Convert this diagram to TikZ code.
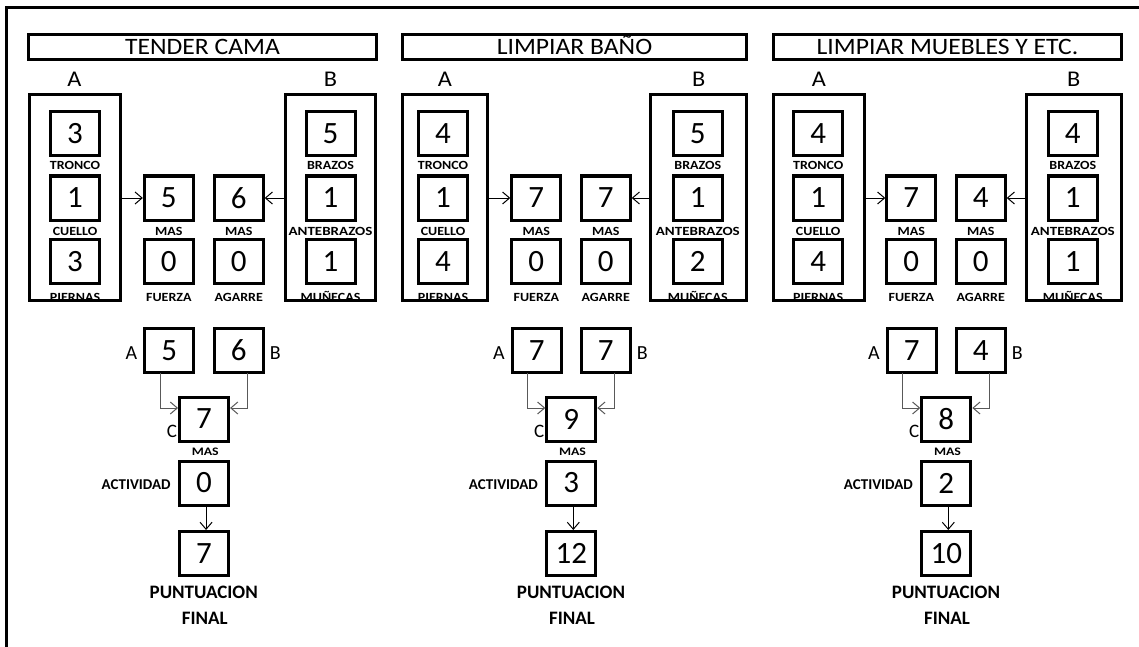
\documentclass[tikz,border=0pt]{standalone}
\usepackage{fontspec}
\setmainfont{Carlito}
\usetikzlibrary{arrows.meta}
\newcommand{\hs}[2][1.12]{\scalebox{#1}[1]{#2}}
\begin{document}
\begin{tikzpicture}[x=1pt,y=-1pt,
  box/.style={draw,line width=3pt,minimum width=49pt,minimum height=44pt,inner sep=0pt,outer sep=0pt,font=\fontsize{31}{31}\selectfont},
  frame/.style={draw,line width=3pt,inner sep=0pt,outer sep=0pt},
  lbl/.style={anchor=base,inner sep=0pt,font=\bfseries\fontsize{12.5}{12.5}\selectfont},
  hdr/.style={anchor=base,inner sep=0pt,font=\fontsize{22.5}{22.5}\selectfont},
  ttl/.style={anchor=base,inner sep=0pt,font=\fontsize{23.5}{23.5}\selectfont},
  arr/.style={line width=1pt,shorten >=1.5pt,-{Straight Barb[length=7pt,width=12pt]}},
  garr/.style={arr,draw=black!65}
]
\useasboundingbox (0,0) rectangle (1139,647);
\draw[line width=3pt] (6,650) -- (6,7.5) -- (1142,7.5);

\foreach \i/\ttlx/\tx/\tw/\ax/\aw/\ix/\mx/\nx/\bx/\bw/\jx/\va/\vb/\vc/\vm/\vn/\vd/\ve/\vf/\vg/\vh/\vk in {
  1/{TENDER CAMA}/202.5/348/74.5/91/75/168.8/238.7/330.5/90/330.5/3/1/3/5/6/5/1/1/7/0/7,
  2/{LIMPIAR BAÑO}/574.5/344/445/85/443/536.3/605.7/698.8/96/697.8/4/1/4/7/7/5/1/2/9/3/12,
  3/{LIMPIAR MUEBLES Y ETC.}/947.5/348.6/818.8/91.3/818.2/911.3/980.7/1073.8/94.7/1072.8/4/1/4/7/4/4/1/1/8/2/10}
{
  % title
  \node[ttl] (TT\i) at (\tx,55) {\hs[1.09]{\ttlx}};
  \node[frame,minimum width=\tw pt,minimum height=25pt] (T\i) at (\tx,47) {};
  % headers
  \node[hdr] (HA\i) at (\ax,87) {\hs[1.08]{A}};
  \node[hdr] (HB\i) at (\bx,87) {\hs[1.08]{B}};
  % inner boxes of A
  \node[box] (A1\i) at (\ix,133.5) {\va};
  \node[box] (A2\i) at (\ix,198) {\vb};
  \node[box] (A3\i) at (\ix,261.5) {\vc};
  \node[lbl] (LA1\i) at (\ix,170) {\hs{TRONCO}};
  \node[lbl] (LA2\i) at (\ix,235) {\hs{CUELLO}};
  \node[lbl] (LA3\i) at (\ix,301.5) {\hs{PIERNAS}};
  % inner boxes of B
  \node[box] (B1\i) at (\jx,133.5) {\vd};
  \node[box] (B2\i) at (\jx,198) {\ve};
  \node[box] (B3\i) at (\jx,261.5) {\vf};
  \node[lbl] (LB1\i) at (\jx,170) {\hs{BRAZOS}};
  \node[lbl] (LB2\i) at (\jx,235) {\hs[1.2]{ANTEBRAZOS}};
  \node[lbl] (LB3\i) at (\jx,301.5) {\hs{MUÑECAS}};
  % middle boxes
  \node[box] (M\i) at (\mx,198) {\vm};
  \node[box] (N\i) at (\nx,198) {\vn};
  \node[box] (F\i) at (\mx,261.5) {0};
  \node[box] (G\i) at (\nx,261.5) {0};
  \node[lbl] (LM\i) at (\mx,235) {\hs{MAS}};
  \node[lbl] (LN\i) at (\nx,235) {\hs{MAS}};
  \node[lbl] (LF\i) at (\mx,301) {\hs{FUERZA}};
  \node[lbl] (LG\i) at (\nx,301) {\hs{AGARRE}};
  % group frames
  \node[frame,minimum width=\aw pt,minimum height=206pt] (A\i) at (\ax,197.5) {};
  \node[frame,minimum width=\bw pt,minimum height=206pt] (B\i) at (\bx,197.5) {};
  \draw[arr] (A\i.east |- M\i.west) -- (M\i.west);
  \draw[arr] (B\i.west |- N\i.east) -- (N\i.east);
  % lower part
  \node[box] (P\i) at ({\mx+0.5},350.5) {\vm};
  \node[box] (Q\i) at (\nx,350.5) {\vn};
  \node[box] (C\i) at ({(\mx+\nx)/2+0.3},419) {\vg};
  \node[box] (K\i) at ({(\mx+\nx)/2+0.3},483) {\vh};
  \node[box] (R\i) at ({(\mx+\nx)/2+0.3},553.5) {\vk};
  \node[anchor=base east,inner sep=0pt,font=\fontsize{20}{20}\selectfont] (PA\i) at ({\mx-31.5},359.5) {A};
  \node[anchor=base west,inner sep=0pt,font=\fontsize{20}{20}\selectfont] (QB\i) at ({\nx+31},359.5) {B};
  \node[anchor=base east,inner sep=0pt,font=\fontsize{19}{19}\selectfont] (CC\i) at ({(\mx+\nx)/2-26.5},437.5) {C};
  \node[anchor=base,inner sep=0pt,font=\bfseries\fontsize{11.5}{11.5}\selectfont] (CM\i) at ({(\mx+\nx)/2+1.5},455.5) {\hs[1.2]{MAS}};
  \node[anchor=base east,inner sep=0pt,font=\bfseries\fontsize{15}{15}\selectfont] (KA\i) at ({(\mx+\nx)/2-33},489.5) {ACTIVIDAD};
  \node[anchor=base,inner sep=0pt,font=\bfseries\fontsize{19}{19}\selectfont] (RP\i) at ({(\mx+\nx)/2},598.5) {PUNTUACION};
  \node[anchor=base,inner sep=0pt,font=\bfseries\fontsize{19}{19}\selectfont] (RF\i) at ({(\mx+\nx)/2+1},624.5) {FINAL};
  \draw[garr] ([xshift=-9pt]P\i.south) |- ([yshift=11pt]C\i.west);
  \draw[garr] ([xshift=8.5pt]Q\i.south) |- ([yshift=11pt]C\i.east);
  \draw[arr] ([xshift=2pt]K\i.south) -- ([xshift=2pt]R\i.north);
}
\end{tikzpicture}
\end{document}
